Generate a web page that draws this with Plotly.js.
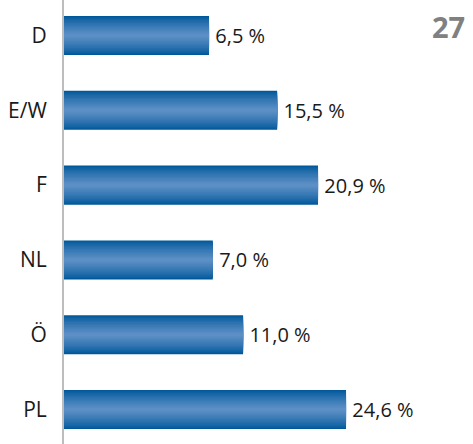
<!DOCTYPE html>
<html>
<head>
<meta charset="utf-8">
<script src="https://cdn.plot.ly/plotly-3.0.1.min.js"></script>
<style>html,body{margin:0;padding:0;background:#fff;}#chart{width:473px;height:444px;}</style>
</head>
<body>
<div id="chart"></div>
<script>
var categories = ['D', 'E/W', 'F', 'NL', 'Ö', 'PL'];
var values = [6.5, 15.5, 20.9, 7.0, 11.0, 24.6];
var valueLabels = ['6,5 %', '15,5 %', '20,9 %', '7,0 %', '11,0 %', '24,6 %'];
var pageNumber = '27';

// visual axis origin (bars start left of zero in the source graphic)
var AXIS_START = -12.66;
var BAR_W = 0.522;

// gradient layers: outer dark edge -> light centre
var N = 14;
var c0 = [0, 88, 155], c1 = [92, 143, 197];
var layers = [];
for (var k = 0; k < N; k++) {
  var t = k / (N - 1);
  var e = Math.pow(t, 0.8);
  var col = 'rgb(' + c0.map(function (a, j) { return Math.round(a + (c1[j] - a) * e); }).join(',') + ')';
  layers.push({f: 1 - k * (0.92 / (N - 1)), c: col});
}

var traces = layers.map(function (L, i) {
  var tr = {
    type: 'bar',
    orientation: 'h',
    y: categories,
    x: values.map(function (v) { return v - AXIS_START; }),
    base: AXIS_START,
    width: BAR_W * L.f,
    marker: {color: L.c, line: {width: 0}},
    hoverinfo: 'skip',
    showlegend: false
  };
  if (i === 0) {
    tr.text = valueLabels.map(function (s) { return '\u2009' + s; });
    tr.textposition = 'outside';
    tr.textfont = {family: 'Open Sans, sans-serif', size: 20, color: '#1a1a1a'};
    tr.cliponaxis = false;
  } else {
    tr.textposition = 'none';
  }
  return tr;
});

var layout = {
  width: 473,
  height: 444,
  margin: {l: 64, r: 0, t: 0, b: 0},
  paper_bgcolor: '#ffffff',
  plot_bgcolor: '#ffffff',
  barmode: 'overlay',
  showlegend: false,
  xaxis: {
    range: [AXIS_START, AXIS_START + 409 / 7.569],
    visible: false,
    fixedrange: true
  },
  yaxis: {
    type: 'category',
    range: [5.461, -0.4746],
    showline: true,
    linecolor: '#bdbdbd',
    linewidth: 2,
    showgrid: false,
    zeroline: false,
    ticks: '',
    ticklabelstandoff: 11,
    tickfont: {family: 'Open Sans, sans-serif', size: 21, color: '#1a1a1a'},
    fixedrange: true
  },
  annotations: [{
    text: '<b>' + pageNumber + '</b>',
    xref: 'paper', yref: 'paper',
    x: 1, y: 1,
    xanchor: 'right', yanchor: 'top',
    xshift: -6, yshift: -5,
    showarrow: false,
    font: {family: 'Open Sans, sans-serif', size: 29, color: '#808080'}
  }]
};

Plotly.newPlot('chart', traces, layout, {displayModeBar: false, staticPlot: true});
</script>
</body>
</html>
